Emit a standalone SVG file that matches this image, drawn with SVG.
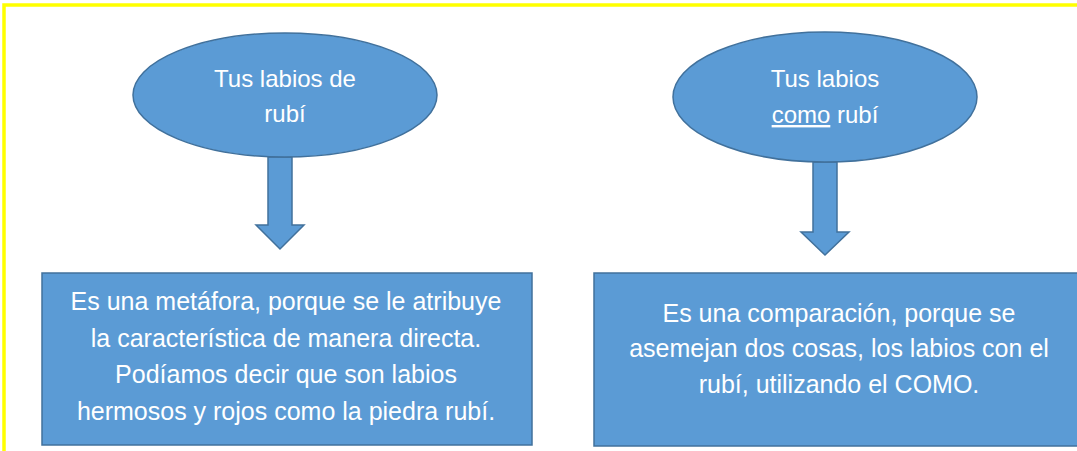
<svg xmlns="http://www.w3.org/2000/svg" width="1077" height="451" viewBox="0 0 1077 451">
<style>
.shape{fill:#5B9BD5;stroke:#41719C;stroke-width:1.5}
.t{font-family:"Liberation Sans",Arial,sans-serif;fill:#FFFFFF;text-anchor:middle}
.e{font-size:24px}
.b{font-size:25px}
</style>
<rect x="0" y="0" width="1077" height="451" fill="#FFFFFF"/>
<rect x="4" y="5" width="1090" height="470" fill="none" stroke="#FFFF00" stroke-width="3.5"/>
<g id="connectors">
<path class="shape" d="M268,157 L292,157 L292,225 L304,225 L280,249 L256,225 L268,225 Z"/>
<path class="shape" d="M813,162 L837,162 L837,232 L849,232 L825,255 L801,232 L813,232 Z"/>
</g>
<g id="node-metafora">
<ellipse class="shape" cx="285" cy="95" rx="152" ry="62"/>
<text class="t e" x="285" y="87">Tus labios de</text>
<text class="t e" x="285" y="122">rubí</text>
</g>
<g id="node-comparacion">
<ellipse class="shape" cx="825" cy="97" rx="152" ry="65"/>
<text class="t e" x="825" y="87">Tus labios</text>
<text class="t e" x="825" y="123"><tspan text-decoration="underline">como</tspan> rubí</text>
</g>
<g id="box-metafora">
<rect class="shape" x="42" y="273" width="490" height="172"/>
<text class="t b" x="286" y="310">Es una metáfora, porque se le atribuye</text>
<text class="t b" x="286" y="347">la característica de manera directa.</text>
<text class="t b" x="286" y="383">Podíamos decir que son labios</text>
<text class="t b" x="286" y="420">hermosos y rojos como la piedra rubí.</text>
</g>
<g id="box-comparacion">
<rect class="shape" x="594" y="273" width="490" height="173"/>
<text class="t b" x="839" y="322">Es una comparación, porque se</text>
<text class="t b" x="839" y="357">asemejan dos cosas, los labios con el</text>
<text class="t b" x="839" y="393">rubí, utilizando el COMO.</text>
</g>
</svg>
